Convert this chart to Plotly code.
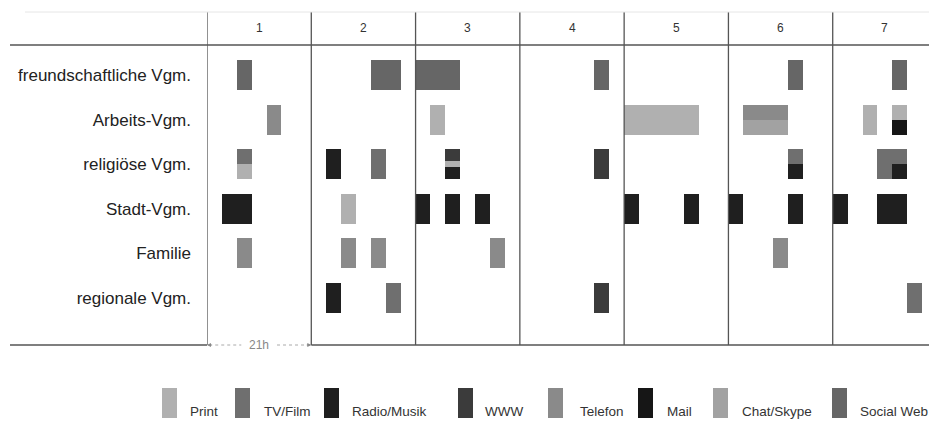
import plotly.graph_objects as go

# ---------------- data ----------------
row_labels = ["freundschaftliche Vgm.", "Arbeits-Vgm.", "religiöse Vgm.",
              "Stadt-Vgm.", "Familie", "regionale Vgm."]
day_labels = ["1", "2", "3", "4", "5", "6", "7"]
slots_per_day = 7          # 7 slots of 3h -> 21h per day
span_label = "21h"

media = ["Print", "TV/Film", "Radio/Musik", "WWW", "Telefon", "Mail", "Chat/Skype", "Social Web"]
media_colors = ["#b0b0b0", "#6f6f6f", "#1f1f1f", "#3b3b3b", "#8a8a8a", "#161616", "#a2a2a2", "#666666"]

# cells per medium: (row index, day index, slot, lower fraction, upper fraction)
print_cells = [(2, 0, 2, 0.0, 0.5), (3, 1, 2, 0, 1), (1, 2, 1, 0, 1), (2, 2, 2, 0.4, 0.6),
               (1, 4, 0, 0, 1), (1, 4, 1, 0, 1), (1, 4, 2, 0, 1), (1, 4, 3, 0, 1), (1, 4, 4, 0, 1),
               (1, 6, 2, 0, 1), (1, 6, 4, 0.5, 1)]
tv_cells = [(2, 0, 2, 0.5, 1), (2, 1, 4, 0, 1), (5, 1, 5, 0, 1), (2, 5, 4, 0.5, 1),
            (2, 6, 3, 0, 1), (2, 6, 4, 0.5, 1), (5, 6, 5, 0, 1)]
radio_cells = [(3, 0, 1, 0, 1), (3, 0, 2, 0, 1), (2, 1, 1, 0, 1), (5, 1, 1, 0, 1),
               (2, 2, 2, 0, 0.4), (3, 2, 0, 0, 1), (3, 2, 2, 0, 1), (3, 2, 4, 0, 1),
               (3, 4, 0, 0, 1), (3, 4, 4, 0, 1), (2, 5, 4, 0, 0.5), (3, 5, 0, 0, 1),
               (3, 5, 4, 0, 1), (2, 6, 4, 0, 0.5), (3, 6, 0, 0, 1), (3, 6, 3, 0, 1), (3, 6, 4, 0, 1)]
www_cells = [(2, 2, 2, 0.6, 1), (2, 3, 5, 0, 1), (5, 3, 5, 0, 1)]
telefon_cells = [(1, 0, 4, 0, 1), (4, 0, 2, 0, 1), (4, 1, 2, 0, 1), (4, 1, 4, 0, 1),
                 (4, 2, 5, 0, 1), (1, 5, 1, 0.5, 1), (1, 5, 2, 0.5, 1), (1, 5, 3, 0.5, 1),
                 (4, 5, 3, 0, 1)]
mail_cells = [(1, 6, 4, 0, 0.5)]
chat_cells = [(1, 5, 1, 0, 0.5), (1, 5, 2, 0, 0.5), (1, 5, 3, 0, 0.5)]
social_cells = [(0, 0, 2, 0, 1), (0, 1, 4, 0, 1), (0, 1, 5, 0, 1), (0, 2, 0, 0, 1),
                (0, 2, 1, 0, 1), (0, 2, 2, 0, 1), (0, 3, 5, 0, 1), (0, 5, 4, 0, 1),
                (0, 6, 4, 0, 1)]
cells_by_medium = [print_cells, tv_cells, radio_cells, www_cells, telefon_cells,
                   mail_cells, chat_cells, social_cells]

# ---------------- figure ----------------
OFF = 8                      # page body margin
W, H = 937 - OFF, 422 - OFF
L, T, B = 207 - OFF, 45 - OFF, 77
plot_w, plot_h = W - L, H - T - B
n_rows = len(row_labels)
n_days = len(day_labels)
bar_h = 0.67
y_hi, y_lo = 5.673, -1.053

def px_x(px):
    return (px - 207) / plot_w

def px_y(py):
    return (345 - py) / plot_h

font_family = "Liberation Sans, Arial, Helvetica, sans-serif"

fig = go.Figure()
for name, color, cells in zip(media, media_colors, cells_by_medium):
    xs, bases, heights = [], [], []
    for r, d, s, lo, hi in cells:
        yc = (n_rows - 1) - r
        xs.append(d * slots_per_day + s + 0.5)
        bases.append(yc - bar_h / 2 + lo * bar_h)
        heights.append((hi - lo) * bar_h)
    fig.add_trace(go.Bar(x=xs, y=heights, base=bases, width=1.0, name=name,
                         marker=dict(color=color, line=dict(width=0)),
                         showlegend=False, hoverinfo="skip"))

shapes = []
line_col = "#555555"
top_py = 12
# vertical day separators
for d in range(n_days):
    shapes.append(dict(type="line", xref="x", yref="paper", x0=d * slots_per_day,
                       x1=d * slots_per_day, y0=0, y1=px_y(top_py),
                       line=dict(color=line_col, width=1.3)))
# faint top line
shapes.append(dict(type="line", xref="paper", yref="paper", x0=px_x(25), x1=1,
                   y0=px_y(top_py), y1=px_y(top_py), line=dict(color="#e6e6e6", width=1)))
# header line
shapes.append(dict(type="line", xref="paper", yref="paper", x0=px_x(10), x1=1,
                   y0=1, y1=1, line=dict(color=line_col, width=1.5)))
# bottom line (interrupted by the 21h span)
shapes.append(dict(type="line", xref="paper", yref="paper", x0=px_x(10), x1=0,
                   y0=0, y1=0, line=dict(color=line_col, width=1.5)))
shapes.append(dict(type="line", xref="x", yref="paper", x0=slots_per_day, x1=n_days * slots_per_day,
                   y0=0, y1=0, line=dict(color=line_col, width=1.5)))
shapes.append(dict(type="line", xref="x", yref="paper", x0=0.15, x1=2.3,
                   y0=0, y1=0, line=dict(color="#aaaaaa", width=1, dash="dot")))
shapes.append(dict(type="line", xref="x", yref="paper", x0=4.7, x1=6.85,
                   y0=0, y1=0, line=dict(color="#aaaaaa", width=1, dash="dot")))

annotations = []
for d, lab in enumerate(day_labels):
    annotations.append(dict(x=d * slots_per_day + slots_per_day / 2, y=px_y(28), xref="x", yref="paper",
                            yanchor="middle", text=lab, showarrow=False,
                            font=dict(size=12, color="#333333", family=font_family)))
annotations.append(dict(x=slots_per_day / 2, y=0, xref="x", yref="paper", text=span_label,
                        yanchor="middle", showarrow=False,
                        font=dict(size=12, color="#888888", family=font_family)))
annotations.append(dict(x=0, y=0, xref="x", yref="paper", ax=6, ay=0, text="", showarrow=True,
                        arrowhead=2, arrowsize=0.8, arrowwidth=1, arrowcolor="#888888"))
annotations.append(dict(x=slots_per_day, y=0, xref="x", yref="paper", ax=-6, ay=0, text="", showarrow=True,
                        arrowhead=2, arrowsize=0.8, arrowwidth=1, arrowcolor="#888888"))

# custom legend: tall swatches with labels
legend_swatch_px = [162, 235, 324, 458, 548, 638, 713, 832]
legend_text_px = [188, 262, 350, 483, 578, 665, 740, 858]
for name, color, sx, tx in zip(media, media_colors, legend_swatch_px, legend_text_px):
    shapes.append(dict(type="rect", xref="paper", yref="paper", x0=px_x(sx), x1=px_x(sx + 15),
                       y0=px_y(418), y1=px_y(388), fillcolor=color, line=dict(width=0)))
    annotations.append(dict(x=px_x(tx), y=px_y(421), xref="paper", yref="paper", text=name,
                            xanchor="left", yanchor="bottom", showarrow=False,
                            font=dict(size=13.5, color="#333333", family=font_family)))

fig.update_layout(
    width=W, height=H,
    margin=dict(l=L, r=0, t=T, b=B, pad=0),
    paper_bgcolor="white", plot_bgcolor="white",
    barmode="overlay", bargap=0,
    shapes=shapes, annotations=annotations,
    xaxis=dict(range=[0, n_days * slots_per_day], showgrid=False, zeroline=False,
               showticklabels=False, ticks="", showline=False, fixedrange=True),
    yaxis=dict(range=[y_lo, y_hi], tickvals=list(range(n_rows - 1, -1, -1)), ticktext=row_labels,
               showgrid=False, zeroline=False, showline=False, ticks="",
               ticklabelstandoff=15, fixedrange=True, automargin=False,
               tickfont=dict(size=17, color="#222222", family=font_family)),
    font=dict(family=font_family),
)

fig.write_html("out.html")
